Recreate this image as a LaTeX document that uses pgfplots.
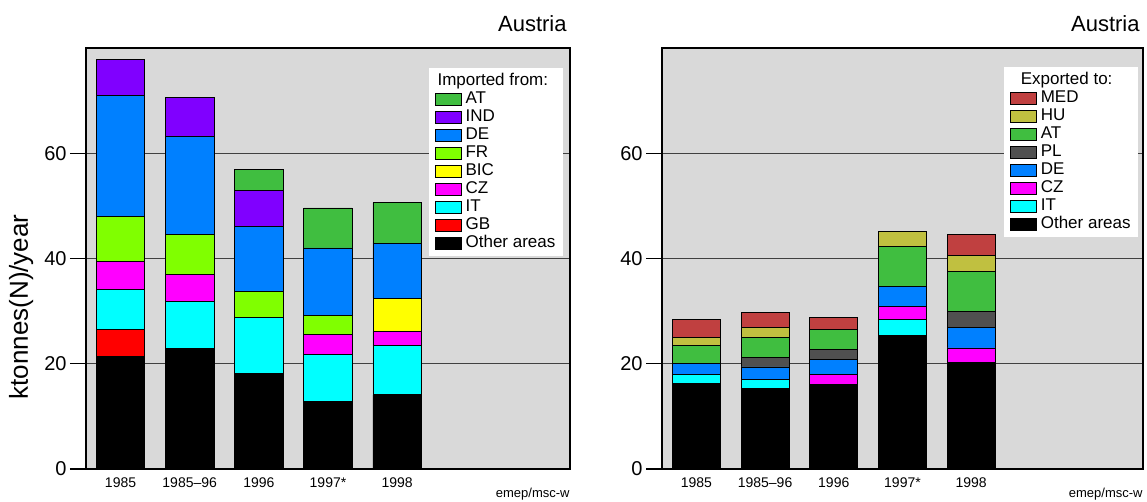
\documentclass[border=0pt]{standalone}
\usepackage{pgfplots}
\usepackage{pgfplotstable}
\pgfplotsset{compat=1.18}
\usepackage{fontspec}
\setmainfont{Liberation Sans}

\definecolor{cAT}{RGB}{64,190,64}
\definecolor{cIND}{RGB}{128,0,255}
\definecolor{cDE}{RGB}{0,128,255}
\definecolor{cFR}{RGB}{128,255,0}
\definecolor{cBIC}{RGB}{255,255,0}
\definecolor{cCZ}{RGB}{255,0,255}
\definecolor{cIT}{RGB}{0,255,255}
\definecolor{cGB}{RGB}{255,0,0}
\definecolor{cMED}{RGB}{192,64,64}
\definecolor{cHU}{RGB}{192,192,64}
\definecolor{cPL}{RGB}{80,80,80}

% imports, ktonnes(N)/year
\pgfplotstableread{
x Other GB IT CZ BIC FR DE IND AT
0 21.4 5.2 7.5 5.4 0 8.5 22.9 7.0 0
1 22.9 0 9.0 5.1 0 7.6 18.6 7.4 0
2 18.2 0 10.6 0 0 5.0 12.3 6.9 3.9
3 12.8 0 9.0 3.8 0 3.5 12.9 0 7.6
4 14.1 0 9.3 2.8 6.3 0 10.4 0 7.7
}\imp

% exports
\pgfplotstableread{
x Other IT CZ DE PL AT HU MED
0 16.2 1.8 0 2.0 0 3.4 1.6 3.5
1 15.3 1.8 0 2.3 1.8 3.8 1.9 2.8
2 16.0 0 2.0 2.9 1.8 3.8 0 2.3
3 25.4 3.0 2.5 3.8 0 7.6 2.8 0
4 20.3 0 2.7 3.9 3.1 7.5 3.0 4.0
}\exp

\pgfplotsset{
  emep/.style={
    scale only axis,
    height=210.5pt,
    clip mode=individual,
    ybar stacked,
    bar width=0.7,
    bar shift=0pt,
    xmin=-0.5, xmax=6.5,
    ymin=0, ymax=80,
    xtick={0,1,2,3,4},
    xticklabels={1985,1985--96,1996,1997*,1998},
    xtick style={draw=none},
    xticklabel style={font=\fontsize{7}{8}\selectfont, yshift=7pt},
    ytick={0,20,40,60},
    ytick pos=left,
    yticklabel style={font=\fontsize{10}{11}\selectfont, inner sep=1.5pt},
    /pgf/number format/assume math mode=true,
    tick align=outside,
    major tick length=8pt,
    ytick style={black, line width=0.6pt},
    ymajorgrids,
    grid style={draw=black!75, line width=0.6pt},
    axis line style={line width=1.3pt},
    axis background/.style={fill=black!15},
    every axis plot/.append style={draw=black, line width=0.4pt},
    reverse legend,
    legend cell align=left,
    legend image code/.code={\draw[##1, draw=black, line width=0.4pt] (0pt,-3pt) rectangle (13pt,3pt);},
    legend style={draw=none, fill=white, font=\fontsize{8.5}{9}\selectfont,
      nodes={inner sep=0.6pt, text height=6.1pt, text depth=1.5pt},
      row sep=0.2pt, column sep=1.5pt, inner xsep=3pt, inner ysep=2pt, anchor=north east},
  }
}

\begin{document}
\begin{tikzpicture}
\useasboundingbox (-43pt,-16.5pt) rectangle (530.5pt,234.5pt);

\begin{axis}[emep,
  width=242pt,
  at={(0,0)}, anchor=south west,
  ylabel={ktonnes(N)/year},
  ylabel style={at={(rel axis cs:-0.134,0.385)}, anchor=center, font=\fontsize{13}{14}\selectfont},
  legend style={at={(rel axis cs:0.9855,0.9525)}},
]
\addplot[fill=black] table[x=x, y=Other]{\imp}; \addlegendentry{Other areas}
\addplot[fill=cGB]   table[x=x, y=GB]{\imp};    \addlegendentry{GB}
\addplot[fill=cIT]   table[x=x, y=IT]{\imp};    \addlegendentry{IT}
\addplot[fill=cCZ]   table[x=x, y=CZ]{\imp};    \addlegendentry{CZ}
\addplot[fill=cBIC]  table[x=x, y=BIC]{\imp};   \addlegendentry{BIC}
\addplot[fill=cFR]   table[x=x, y=FR]{\imp};    \addlegendentry{FR}
\addplot[fill=cDE]   table[x=x, y=DE]{\imp};    \addlegendentry{DE}
\addplot[fill=cIND]  table[x=x, y=IND]{\imp};   \addlegendentry{IND}
\addplot[fill=cAT]   table[x=x, y=AT]{\imp};    \addlegendentry{AT}
\addlegendimage{empty legend}
\addlegendentry{\hspace*{-14pt}Imported from:}
\node[anchor=base east, font=\fontsize{11}{12}\selectfont, inner sep=0pt, xshift=-1.5pt, yshift=8pt] at (rel axis cs:1,1) {Austria};
\node[anchor=base east, font=\fontsize{6.5}{7}\selectfont, inner sep=0pt, yshift=-14.5pt] at (rel axis cs:1,0) {emep/msc-w};
\end{axis}

\begin{axis}[emep,
  width=240.5pt,
  at={(288pt,0)}, anchor=south west,
  legend style={at={(rel axis cs:0.99,0.955)}},
]
\addplot[fill=black] table[x=x, y=Other]{\exp}; \addlegendentry{Other areas}
\addplot[fill=cIT]   table[x=x, y=IT]{\exp};    \addlegendentry{IT}
\addplot[fill=cCZ]   table[x=x, y=CZ]{\exp};    \addlegendentry{CZ}
\addplot[fill=cDE]   table[x=x, y=DE]{\exp};    \addlegendentry{DE}
\addplot[fill=cPL]   table[x=x, y=PL]{\exp};    \addlegendentry{PL}
\addplot[fill=cAT]   table[x=x, y=AT]{\exp};    \addlegendentry{AT}
\addplot[fill=cHU]   table[x=x, y=HU]{\exp};    \addlegendentry{HU}
\addplot[fill=cMED]  table[x=x, y=MED]{\exp};   \addlegendentry{MED}
\addlegendimage{empty legend}
\addlegendentry{\hspace*{-10pt}Exported to:}
\node[anchor=base east, font=\fontsize{11}{12}\selectfont, inner sep=0pt, xshift=-1.5pt, yshift=8pt] at (rel axis cs:1,1) {Austria};
\node[anchor=base east, font=\fontsize{6.5}{7}\selectfont, inner sep=0pt, yshift=-14.5pt] at (rel axis cs:1,0) {emep/msc-w};
\end{axis}
\end{tikzpicture}
\end{document}
